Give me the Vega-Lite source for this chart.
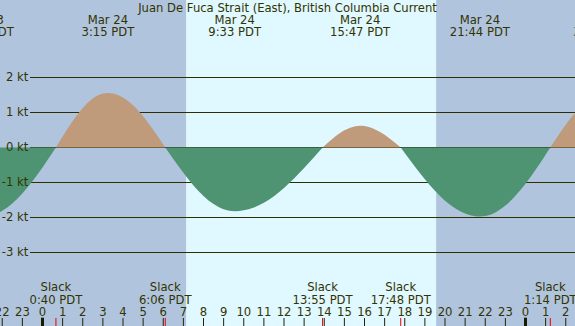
{
  "$schema": "https://vega.github.io/schema/vega-lite/v6.json",
  "width": 575,
  "height": 326,
  "autosize": "none",
  "padding": 0,
  "background": "#b0c4de",
  "config": {"view": {"stroke": null}, "font": "DejaVu Sans"},
  "title": {"text": "Juan De Fuca Strait (East), British Columbia Current", "offset": -24, "baseline": "alphabetic", "anchor": "middle", "font": "DejaVu Sans", "fontSize": 11.6, "fontWeight": "normal", "color": "#333300"},
  "datasets": {
    "bg": [
      {"start": -3, "end": 7.134, "kind": "night"},
      {"start": 7.134, "end": 19.572, "kind": "day"},
      {"start": 19.572, "end": 30, "kind": "night"}
    ],
    "grid": [{"kt": -3, "label": "-3 kt"}, {"kt": -2, "label": "-2 kt"}, {"kt": -1, "label": "-1 kt"}, {"kt": 0, "label": "0 kt"}, {"kt": 1, "label": "1 kt"}, {"kt": 2, "label": "2 kt"}],
    "hours": [
      {"h": -2, "label": "22"}, {"h": -1, "label": "23"}, {"h": 0, "label": "0"}, {"h": 1, "label": "1"}, {"h": 2, "label": "2"},
      {"h": 3, "label": "3"}, {"h": 4, "label": "4"}, {"h": 5, "label": "5"}, {"h": 6, "label": "6"}, {"h": 7, "label": "7"},
      {"h": 8, "label": "8"}, {"h": 9, "label": "9"}, {"h": 10, "label": "10"}, {"h": 11, "label": "11"}, {"h": 12, "label": "12"},
      {"h": 13, "label": "13"}, {"h": 14, "label": "14"}, {"h": 15, "label": "15"}, {"h": 16, "label": "16"}, {"h": 17, "label": "17"},
      {"h": 18, "label": "18"}, {"h": 19, "label": "19"}, {"h": 20, "label": "20"}, {"h": 21, "label": "21"}, {"h": 22, "label": "22"},
      {"h": 23, "label": "23"}, {"h": 24, "label": "0"}, {"h": 25, "label": "1"}, {"h": 26, "label": "2"}
    ],
    "curve": [
      {"t": -3.0, "v": -1.958, "seg": 0, "kind": "ebb"},
      {"t": -2.9, "v": -1.96, "seg": 0, "kind": "ebb"},
      {"t": -2.5, "v": -1.93, "seg": 0, "kind": "ebb"},
      {"t": -2.0, "v": -1.808, "seg": 0, "kind": "ebb"},
      {"t": -1.5, "v": -1.599, "seg": 0, "kind": "ebb"},
      {"t": -1.0, "v": -1.313, "seg": 0, "kind": "ebb"},
      {"t": -0.5, "v": -0.964, "seg": 0, "kind": "ebb"},
      {"t": 0.0, "v": -0.568, "seg": 0, "kind": "ebb"},
      {"t": 0.5, "v": -0.144, "seg": 0, "kind": "ebb"},
      {"t": 0.667, "v": 0, "seg": 0, "kind": "ebb"},
      {"t": 0.667, "v": 0, "seg": 1, "kind": "flood"},
      {"t": 1.0, "v": 0.314, "seg": 1, "kind": "flood"},
      {"t": 1.5, "v": 0.757, "seg": 1, "kind": "flood"},
      {"t": 2.0, "v": 1.131, "seg": 1, "kind": "flood"},
      {"t": 2.5, "v": 1.401, "seg": 1, "kind": "flood"},
      {"t": 3.0, "v": 1.542, "seg": 1, "kind": "flood"},
      {"t": 3.25, "v": 1.56, "seg": 1, "kind": "flood"},
      {"t": 3.5, "v": 1.545, "seg": 1, "kind": "flood"},
      {"t": 4.0, "v": 1.429, "seg": 1, "kind": "flood"},
      {"t": 4.5, "v": 1.204, "seg": 1, "kind": "flood"},
      {"t": 5.0, "v": 0.89, "seg": 1, "kind": "flood"},
      {"t": 5.5, "v": 0.507, "seg": 1, "kind": "flood"},
      {"t": 6.0, "v": 0.086, "seg": 1, "kind": "flood"},
      {"t": 6.1, "v": 0, "seg": 1, "kind": "flood"},
      {"t": 6.1, "v": 0, "seg": 2, "kind": "ebb"},
      {"t": 6.5, "v": -0.33, "seg": 2, "kind": "ebb"},
      {"t": 7.0, "v": -0.723, "seg": 2, "kind": "ebb"},
      {"t": 7.5, "v": -1.084, "seg": 2, "kind": "ebb"},
      {"t": 8.0, "v": -1.385, "seg": 2, "kind": "ebb"},
      {"t": 8.5, "v": -1.616, "seg": 2, "kind": "ebb"},
      {"t": 9.0, "v": -1.763, "seg": 2, "kind": "ebb"},
      {"t": 9.55, "v": -1.82, "seg": 2, "kind": "ebb"},
      {"t": 10.0, "v": -1.796, "seg": 2, "kind": "ebb"},
      {"t": 10.5, "v": -1.715, "seg": 2, "kind": "ebb"},
      {"t": 11.0, "v": -1.578, "seg": 2, "kind": "ebb"},
      {"t": 11.5, "v": -1.39, "seg": 2, "kind": "ebb"},
      {"t": 12.0, "v": -1.158, "seg": 2, "kind": "ebb"},
      {"t": 12.5, "v": -0.888, "seg": 2, "kind": "ebb"},
      {"t": 13.0, "v": -0.589, "seg": 2, "kind": "ebb"},
      {"t": 13.5, "v": -0.272, "seg": 2, "kind": "ebb"},
      {"t": 13.917, "v": 0, "seg": 2, "kind": "ebb"},
      {"t": 13.917, "v": 0, "seg": 3, "kind": "flood"},
      {"t": 14.0, "v": 0.043, "seg": 3, "kind": "flood"},
      {"t": 14.5, "v": 0.293, "seg": 3, "kind": "flood"},
      {"t": 15.0, "v": 0.491, "seg": 3, "kind": "flood"},
      {"t": 15.5, "v": 0.603, "seg": 3, "kind": "flood"},
      {"t": 15.783, "v": 0.62, "seg": 3, "kind": "flood"},
      {"t": 16.0, "v": 0.611, "seg": 3, "kind": "flood"},
      {"t": 16.5, "v": 0.525, "seg": 3, "kind": "flood"},
      {"t": 17.0, "v": 0.361, "seg": 3, "kind": "flood"},
      {"t": 17.5, "v": 0.143, "seg": 3, "kind": "flood"},
      {"t": 17.8, "v": 0, "seg": 3, "kind": "flood"},
      {"t": 17.8, "v": 0, "seg": 4, "kind": "ebb"},
      {"t": 18.0, "v": -0.157, "seg": 4, "kind": "ebb"},
      {"t": 18.5, "v": -0.544, "seg": 4, "kind": "ebb"},
      {"t": 19.0, "v": -0.909, "seg": 4, "kind": "ebb"},
      {"t": 19.5, "v": -1.238, "seg": 4, "kind": "ebb"},
      {"t": 20.0, "v": -1.518, "seg": 4, "kind": "ebb"},
      {"t": 20.5, "v": -1.737, "seg": 4, "kind": "ebb"},
      {"t": 21.0, "v": -1.887, "seg": 4, "kind": "ebb"},
      {"t": 21.5, "v": -1.962, "seg": 4, "kind": "ebb"},
      {"t": 21.733, "v": -1.97, "seg": 4, "kind": "ebb"},
      {"t": 22.0, "v": -1.956, "seg": 4, "kind": "ebb"},
      {"t": 22.5, "v": -1.854, "seg": 4, "kind": "ebb"},
      {"t": 23.0, "v": -1.659, "seg": 4, "kind": "ebb"},
      {"t": 23.5, "v": -1.381, "seg": 4, "kind": "ebb"},
      {"t": 24.0, "v": -1.034, "seg": 4, "kind": "ebb"},
      {"t": 24.5, "v": -0.636, "seg": 4, "kind": "ebb"},
      {"t": 25.0, "v": -0.205, "seg": 4, "kind": "ebb"},
      {"t": 25.233, "v": 0, "seg": 4, "kind": "ebb"},
      {"t": 25.233, "v": 0, "seg": 5, "kind": "flood"},
      {"t": 25.5, "v": 0.236, "seg": 5, "kind": "flood"},
      {"t": 26.0, "v": 0.652, "seg": 5, "kind": "flood"},
      {"t": 26.5, "v": 1.003, "seg": 5, "kind": "flood"},
      {"t": 27.0, "v": 1.251, "seg": 5, "kind": "flood"}
    ],
    "events": [
      {"t": -2.92, "date": "Mar 23", "time": "21:05 PDT"},
      {"t": 3.25, "date": "Mar 24", "time": "3:15 PDT"},
      {"t": 9.55, "date": "Mar 24", "time": "9:33 PDT"},
      {"t": 15.783, "date": "Mar 24", "time": "15:47 PDT"},
      {"t": 21.733, "date": "Mar 24", "time": "21:44 PDT"},
      {"t": 27.683, "date": "Mar 25", "time": "3:41 PDT"}
    ],
    "slacks": [
      {"t": 0.667, "time": "0:40 PDT"},
      {"t": 6.1, "time": "6:06 PDT"},
      {"t": 13.917, "time": "13:55 PDT"},
      {"t": 17.8, "time": "17:48 PDT"},
      {"t": 25.233, "time": "1:14 PDT"}
    ],
    "midnights": [{"t": 0}, {"t": 24}]
  },
  "layer": [
    {
      "data": {"name": "bg"},
      "mark": {"type": "rect", "clip": true},
      "encoding": {
        "x": {"field": "start", "type": "quantitative", "scale": {"domain": [-2.1118, 26.4596], "nice": false, "zero": false}, "axis": null},
        "x2": {"field": "end"},
        "color": {"field": "kind", "type": "nominal", "scale": {"domain": ["night", "day", "flood", "ebb"], "range": ["#b0c4de", "#e0f8ff", "#bf9b7b", "#4f9472"]}, "legend": null}
      }
    },
    {
      "data": {"name": "grid"},
      "mark": {"type": "rule", "color": "#2e2e00", "strokeWidth": 1},
      "encoding": {
        "x": {"datum": -0.621, "type": "quantitative", "scale": {"domain": [-2.1118, 26.4596], "nice": false, "zero": false}, "axis": null},
        "x2": {"datum": 27},
        "y": {"field": "kt", "type": "quantitative", "scale": {"domain": [-5.1, 4.2142857], "nice": false, "zero": false}, "axis": null}
      }
    },
    {
      "data": {"name": "curve"},
      "mark": {"type": "area", "interpolate": "monotone", "clip": true},
      "encoding": {
        "x": {"field": "t", "type": "quantitative", "scale": {"domain": [-2.1118, 26.4596], "nice": false, "zero": false}, "axis": null},
        "y": {"field": "v", "type": "quantitative", "stack": null, "scale": {"domain": [-5.1, 4.2142857], "nice": false, "zero": false}, "axis": null},
        "y2": {"datum": 0},
        "detail": {"field": "seg", "type": "nominal"},
        "color": {"field": "kind", "type": "nominal", "scale": {"domain": ["night", "day", "flood", "ebb"], "range": ["#b0c4de", "#e0f8ff", "#bf9b7b", "#4f9472"]}, "legend": null}
      }
    },
    {
      "data": {"name": "grid"},
      "mark": {"type": "text", "font": "DejaVu Sans", "fontSize": 11.6, "color": "#333300", "align": "right", "baseline": "middle"},
      "encoding": {
        "x": {"datum": -0.7056, "type": "quantitative", "scale": {"domain": [-2.1118, 26.4596], "nice": false, "zero": false}, "axis": null},
        "y": {"field": "kt", "type": "quantitative", "scale": {"domain": [-5.1, 4.2142857], "nice": false, "zero": false}, "axis": null},
        "text": {"field": "label"}
      }
    },
    {
      "data": {"name": "hours"},
      "mark": {"type": "text", "font": "DejaVu Sans", "fontSize": 11.6, "color": "#333300", "align": "center", "baseline": "alphabetic"},
      "encoding": {
        "x": {"field": "h", "type": "quantitative", "scale": {"domain": [-2.1118, 26.4596], "nice": false, "zero": false}, "axis": null},
        "y": {"datum": -4.823, "type": "quantitative", "scale": {"domain": [-5.1, 4.2142857], "nice": false, "zero": false}, "axis": null},
        "text": {"field": "label"}
      }
    },
    {
      "data": {"name": "hours"},
      "mark": {"type": "rule", "color": "#222200", "strokeWidth": 1},
      "encoding": {
        "x": {"field": "h", "type": "quantitative", "scale": {"domain": [-2.1118, 26.4596], "nice": false, "zero": false}, "axis": null},
        "y": {"datum": -4.871, "type": "quantitative", "scale": {"domain": [-5.1, 4.2142857], "nice": false, "zero": false}, "axis": null},
        "y2": {"datum": -5.1}
      }
    },
    {
      "data": {"name": "events"},
      "mark": {"type": "text", "font": "DejaVu Sans", "fontSize": 11.6, "color": "#333300", "align": "center", "baseline": "alphabetic"},
      "encoding": {
        "x": {"field": "t", "type": "quantitative", "scale": {"domain": [-2.1118, 26.4596], "nice": false, "zero": false}, "axis": null},
        "y": {"datum": 3.5286, "type": "quantitative", "scale": {"domain": [-5.1, 4.2142857], "nice": false, "zero": false}, "axis": null},
        "text": {"field": "date"}
      }
    },
    {
      "data": {"name": "events"},
      "mark": {"type": "text", "font": "DejaVu Sans", "fontSize": 11.6, "color": "#333300", "align": "center", "baseline": "alphabetic"},
      "encoding": {
        "x": {"field": "t", "type": "quantitative", "scale": {"domain": [-2.1118, 26.4596], "nice": false, "zero": false}, "axis": null},
        "y": {"datum": 3.1857, "type": "quantitative", "scale": {"domain": [-5.1, 4.2142857], "nice": false, "zero": false}, "axis": null},
        "text": {"field": "time"}
      }
    },
    {
      "data": {"name": "slacks"},
      "mark": {"type": "text", "font": "DejaVu Sans", "fontSize": 11.6, "color": "#333300", "align": "center", "baseline": "alphabetic"},
      "encoding": {
        "x": {"field": "t", "type": "quantitative", "scale": {"domain": [-2.1118, 26.4596], "nice": false, "zero": false}, "axis": null},
        "y": {"datum": -4.1086, "type": "quantitative", "scale": {"domain": [-5.1, 4.2142857], "nice": false, "zero": false}, "axis": null},
        "text": {"value": "Slack"}
      }
    },
    {
      "data": {"name": "slacks"},
      "mark": {"type": "text", "font": "DejaVu Sans", "fontSize": 11.6, "color": "#333300", "align": "center", "baseline": "alphabetic"},
      "encoding": {
        "x": {"field": "t", "type": "quantitative", "scale": {"domain": [-2.1118, 26.4596], "nice": false, "zero": false}, "axis": null},
        "y": {"datum": -4.48, "type": "quantitative", "scale": {"domain": [-5.1, 4.2142857], "nice": false, "zero": false}, "axis": null},
        "text": {"field": "time"}
      }
    },
    {
      "data": {"name": "slacks"},
      "mark": {"type": "rule", "color": "#ee0000", "strokeWidth": 1},
      "encoding": {
        "x": {"field": "t", "type": "quantitative", "scale": {"domain": [-2.1118, 26.4596], "nice": false, "zero": false}, "axis": null},
        "y": {"datum": -4.871, "type": "quantitative", "scale": {"domain": [-5.1, 4.2142857], "nice": false, "zero": false}, "axis": null},
        "y2": {"datum": -5.1}
      }
    },
    {
      "data": {"name": "midnights"},
      "mark": {"type": "rule", "color": "#1a1a00", "strokeWidth": 3},
      "encoding": {
        "x": {"field": "t", "type": "quantitative", "scale": {"domain": [-2.1118, 26.4596], "nice": false, "zero": false}, "axis": null},
        "y": {"datum": -4.863, "type": "quantitative", "scale": {"domain": [-5.1, 4.2142857], "nice": false, "zero": false}, "axis": null},
        "y2": {"datum": -5.1}
      }
    }
  ]
}
